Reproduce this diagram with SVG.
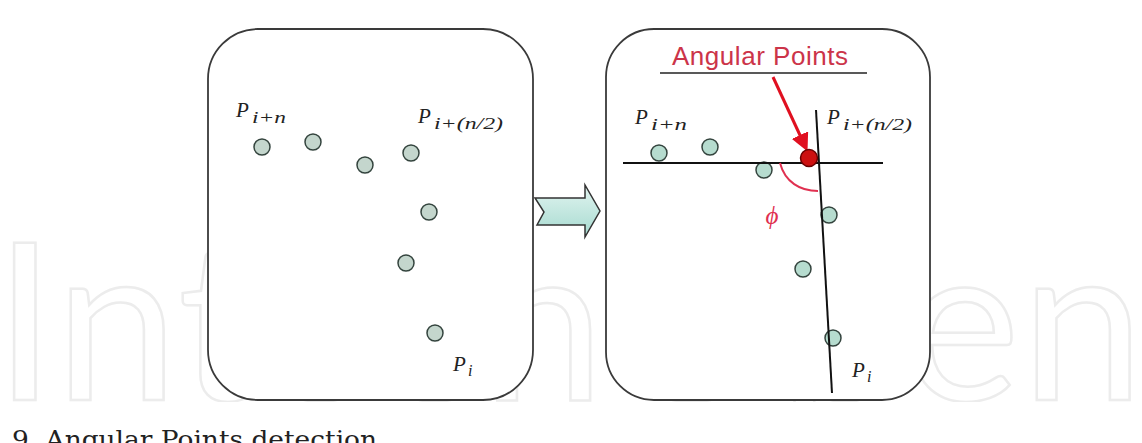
<svg xmlns="http://www.w3.org/2000/svg" width="1142" height="443" viewBox="0 0 1142 443">
<style>
.wm{font-family:"Lato","Open Sans",sans-serif;font-size:220px;fill:none;stroke:#ececec;stroke-width:2.5}
.box{fill:#ffffff;stroke:#3a3a3a;stroke-width:1.8}
.dot{fill:#c4d6cd;stroke:#34443e;stroke-width:1.5}
.dotr{fill:#b6dccf;stroke:#34443e;stroke-width:1.5}
.p{font-family:"Liberation Serif",serif;font-style:italic;font-size:21px;fill:#222}
.sub{font-family:"Liberation Serif",serif;font-style:italic;font-size:16px;fill:#222}
.ln{stroke:#111;stroke-width:2;fill:none}
.red{font-family:"Liberation Sans",Arial,sans-serif;font-size:26px;fill:#cc3449}
.cap{font-family:"DejaVu Serif",serif;font-size:24px;fill:#222}
</style>
<defs>
<linearGradient id="ag" x1="0" y1="0" x2="0" y2="1">
<stop offset="0" stop-color="#e2f4f0"/>
<stop offset="1" stop-color="#a6dad0"/>
</linearGradient>
<marker id="rh" markerWidth="6" markerHeight="6" refX="4" refY="3" orient="auto" markerUnits="strokeWidth">
<path d="M0,0 L6,3 L0,6 z" fill="#e01020"/>
</marker>
<clipPath id="wmclip"><rect x="0" y="0" width="1142" height="402"/></clipPath>
</defs>
<rect width="1142" height="443" fill="#ffffff"/>
<g id="watermark" clip-path="url(#wmclip)">
<text class="wm" x="-6" y="400" textLength="1150" lengthAdjust="spacing">IntechOpen</text>
</g>
<g id="left-box">
<rect class="box" x="208" y="29" width="325" height="371" rx="50" ry="50"/>
<circle class="dot" cx="262" cy="147" r="8"/>
<circle class="dot" cx="313" cy="142" r="8"/>
<circle class="dot" cx="365" cy="165" r="8"/>
<circle class="dot" cx="411" cy="153" r="8"/>
<circle class="dot" cx="429" cy="212" r="8"/>
<circle class="dot" cx="406" cy="263" r="8"/>
<circle class="dot" cx="435" cy="333" r="8"/>
<g id="l-pin"><text class="p" x="236" y="117">P</text><text class="sub" x="252" y="123" textLength="34" lengthAdjust="spacingAndGlyphs">i+n</text></g>
<g id="l-pin2"><text class="p" x="418" y="123">P</text><text class="sub" x="434" y="129" textLength="69" lengthAdjust="spacingAndGlyphs">i+(n/2)</text></g>
<g id="l-pi"><text class="p" x="453" y="371">P</text><text class="sub" x="468" y="376">i</text></g>
</g>
<g id="transform-arrow">
<polygon points="535,198 585,198 585,185 600,211 585,237 585,225 537,225 544,212" fill="url(#ag)" stroke="#333" stroke-width="1.5" stroke-linejoin="miter"/>
</g>
<g id="right-box">
<rect class="box" x="606" y="29" width="324" height="371" rx="48" ry="48"/>
<circle class="dotr" cx="659" cy="153" r="8"/>
<circle class="dotr" cx="710" cy="147" r="8"/>
<circle class="dotr" cx="764" cy="170" r="8"/>
<circle class="dotr" cx="829" cy="215" r="8"/>
<circle class="dotr" cx="803" cy="269" r="8"/>
<circle class="dotr" cx="833" cy="338" r="8"/>
<g id="r-pin"><text class="p" x="635" y="124">P</text><text class="sub" x="651" y="130" textLength="36" lengthAdjust="spacingAndGlyphs">i+n</text></g>
<g id="r-pin2"><text class="p" x="827" y="124">P</text><text class="sub" x="843" y="130" textLength="69" lengthAdjust="spacingAndGlyphs">i+(n/2)</text></g>
<g id="r-pi"><text class="p" x="852" y="377">P</text><text class="sub" x="867" y="382">i</text></g>
</g>
<g id="connectors">
<line class="ln" x1="623" y1="163" x2="883" y2="163"/>
<line class="ln" x1="816" y1="110" x2="832" y2="393"/>
<path d="M780,163 C785,182 800,191 818,191" fill="none" stroke="#e03050" stroke-width="2"/>
<line x1="773" y1="77" x2="805" y2="146" stroke="#e01020" stroke-width="3" marker-end="url(#rh)"/>
<line x1="660" y1="73" x2="867" y2="73" stroke="#222" stroke-width="1.5"/>
</g>
<g id="angular-point">
<circle cx="809" cy="158" r="8.5" fill="#cc1010" stroke="#6a0000" stroke-width="1.5"/>
</g>
<g id="labels">
<text class="red" x="672" y="65" textLength="176">Angular Points</text>
<text x="772" y="224" text-anchor="middle" font-family="Liberation Serif,serif" font-style="italic" font-size="25" fill="#e03050">ϕ</text>
</g>
<g id="caption">
<text class="cap" x="12" y="448" textLength="365" lengthAdjust="spacingAndGlyphs">9. Angular Points detection</text>
</g>
</svg>
